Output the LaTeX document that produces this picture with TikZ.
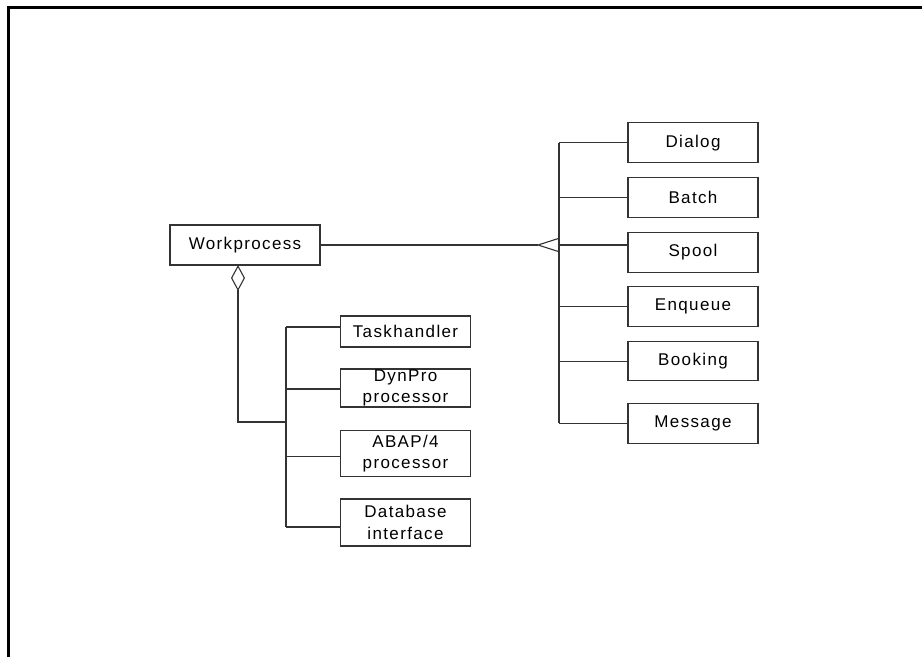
\documentclass[tikz,border=0pt]{standalone}
\usepackage{fontspec}
\setmainfont{Liberation Sans}[LetterSpace=8]
\usetikzlibrary{arrows.meta}

\begin{document}
\begin{tikzpicture}[x=1pt,y=-1pt,
    cls/.style={rectangle,draw=black!80,line width=1.1pt,minimum width=130pt,minimum height=40pt,
        inner sep=0pt,align=center,font=\fontsize{17}{21.5}\selectfont},
    link/.style={draw=black!80,line width=1.1pt},
    frame/.style={line width=3pt},]
\useasboundingbox (0,0) rectangle (922,657);
\draw[frame] (8,657) -- (8,7) -- (922,7);
% the work process and its kinds
\node[cls,minimum width=150pt] (wp) at (245,245) {Workprocess};
\node[cls] (dialog) at (693,142.7) {Dialog};
\node[cls] (batch) at (693,197.5) {Batch};
\node[cls] (spool) at (693,252.3) {Spool};
\node[cls] (enqueue) at (693,306.7) {Enqueue};
\node[cls,minimum height=39pt] (booking) at (693,361.3) {Booking};
\node[cls] (message) at (693,423.3) {Message};
\coordinate (gen) at (559,245);
\coordinate (gentip) at (538,245);
\coordinate (gentop) at (559,142.7);
\coordinate (genbot) at (559,423.3);
\draw[link] (wp.east |- gen) -- (gentip);
\draw[link] (gen) ++(0,-6.7) -- (gentip) -- ++(21,6.7);
\draw[link] (gentop) -- (genbot);
\foreach \n in {dialog,batch,enqueue,booking,message}
    \draw[link] (gen |- \n.west) -- (\n.west);
\draw[link] (gen) -- (spool.west |- gen);
% its parts
\node[cls,minimum height=31pt] (task) at (405.5,331.5) {Taskhandler};
\node[cls,minimum height=38pt] (dynpro) at (405.5,388) {DynPro\\processor};
\node[cls,minimum height=46pt] (abap) at (405.5,453.7) {ABAP/4\\processor};
\node[cls,minimum height=47pt] (dbif) at (405.5,522.5) {Database\\interface};
\coordinate (agg) at (238,265);
\coordinate (aggbend) at (238,422);
\coordinate (part) at (286,422);
\coordinate (parttop) at (286,327);
\coordinate (partbot) at (286,527);
\draw[link,{Diamond[open,length=26pt,width=14pt]}-] (agg) -- (aggbend) -- (part);
\draw[link] (parttop) -- (partbot);
\draw[link] (parttop) -- (task.west |- parttop);
\draw[link] (part |- 0,389) -- (dynpro.west |- 0,389);
\draw[link] (part |- 0,456.7) -- (abap.west |- 0,456.7);
\draw[link] (partbot) -- (dbif.west |- partbot);
\end{tikzpicture}
\end{document}
